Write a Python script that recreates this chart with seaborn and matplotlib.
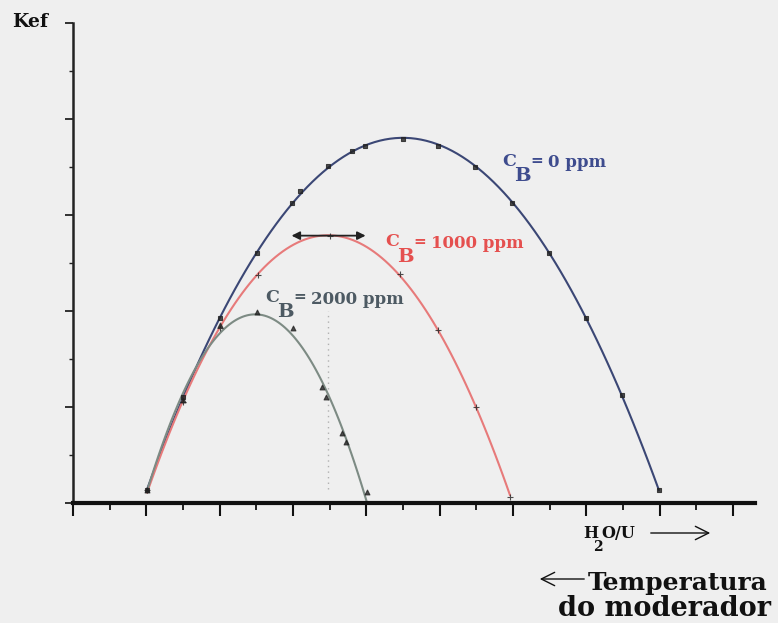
import numpy as np
import pandas as pd
import matplotlib
matplotlib.use("Agg")
import matplotlib.pyplot as plt
from matplotlib.ticker import MultipleLocator, NullFormatter
import seaborn as sns

# H2O/U ratio (arbitrary units) and k-effective readings for each boron level
x_cb0 = [1.01, 1.50, 2.01, 2.51, 2.99, 3.10, 3.48, 3.81, 3.98, 4.50, 4.98, 5.48, 5.99, 6.49, 7.00, 7.49, 7.99]
k_cb0 = [0.27, 2.20, 3.85, 5.20, 6.26, 6.51, 7.03, 7.34, 7.44, 7.59, 7.44, 6.99, 6.24, 5.20, 3.85, 2.25, 0.27]

x_cb1000 = [1.01, 1.50, 2.01, 2.52, 3.51, 4.46, 4.98, 5.50, 5.96]
k_cb1000 = [0.27, 2.10, 3.64, 4.76, 5.57, 4.78, 3.60, 2.00, 0.12]

x_cb2000 = [1.01, 1.50, 2.01, 2.51, 3.00, 3.40, 3.45, 3.67, 3.72, 4.01]
k_cb2000 = [0.27, 2.14, 3.70, 3.97, 3.64, 2.41, 2.20, 1.46, 1.27, 0.23]

labels = ["0 ppm", "1000 ppm", "2000 ppm"]

W, H = 778, 623
BG = "#efefef"

sns.set_style("ticks")
plt.rcParams["font.family"] = ["DejaVu Serif", "DejaVu Sans"]

fig = plt.figure(figsize=(W / 100, H / 100), dpi=100, facecolor=BG)
ax = fig.add_axes([73 / W, 1 - 503 / H, (755 - 73) / W, (503 - 23) / H])
ax.set_facecolor(BG)

series = [
    (x_cb0, k_cb0, "#3b4775", "s", 10),
    (x_cb1000, k_cb1000, "#e77a7a", "+", 14),
    (x_cb2000, k_cb2000, "#7d8b84", "^", 12),
]
for xs, ks, col, mk, sz in series:
    df = pd.DataFrame({"h2o_u": xs, "kef": ks})
    sns.regplot(data=df, x="h2o_u", y="kef", order=2, ci=None, truncate=True, ax=ax,
                marker=mk,
                scatter_kws=dict(color="#222222", s=sz, linewidths=0.8, zorder=3),
                line_kws=dict(color=col, lw=1.5, zorder=2))

# faint dotted guide under the 1000 ppm maximum
ax.plot([3.48, 3.48], [0.3, 4.0], ls=(0, (1, 3)), color="#b0b0b0", lw=1.0, zorder=1)

# double-headed arrow across the 1000 ppm maximum
ax.annotate("", xy=(2.98, 5.57), xytext=(3.99, 5.57),
            arrowprops=dict(arrowstyle="<|-|>", color="#222222", lw=1.3,
                            mutation_scale=12, shrinkA=0, shrinkB=0))

ax.set_xlim(0, 9.30)
ax.set_ylim(0, 10)
ax.set_xlabel("")
ax.set_ylabel("")
ax.xaxis.set_major_locator(MultipleLocator(1))
ax.xaxis.set_minor_locator(MultipleLocator(0.5))
ax.yaxis.set_major_locator(MultipleLocator(2))
ax.yaxis.set_minor_locator(MultipleLocator(1))
ax.xaxis.set_major_formatter(NullFormatter())
ax.yaxis.set_major_formatter(NullFormatter())
ax.tick_params(axis="x", which="major", direction="out", length=9, width=1.5, color="#111111")
ax.tick_params(axis="x", which="minor", direction="out", length=5, width=1.3, color="#111111")
ax.tick_params(axis="y", which="major", direction="out", length=6, width=1.3, color="#222222")
ax.tick_params(axis="y", which="minor", direction="out", length=3, width=1.0, color="#222222")
sns.despine(ax=ax, top=True, right=True)
ax.spines["bottom"].set_linewidth(3.0)
ax.spines["bottom"].set_color("#111111")
ax.spines["left"].set_linewidth(1.8)
ax.spines["left"].set_color("#222222")


def fx(px):
    return px / W


def fy(py):
    return 1 - py / H


def cb_label(px, py, txt, color):
    fig.text(fx(px), fy(py), "C", color=color, fontsize=12.5, fontweight="bold",
             ha="left", va="center")
    fig.text(fx(px + 12), fy(py + 15), "B", color=color, fontsize=14, fontweight="bold",
             ha="left", va="center")
    fig.text(fx(px + 28), fy(py), "=", color=color, fontsize=11, fontweight="bold",
             ha="left", va="center")
    fig.text(fx(px + 46), fy(py + 2), txt, color=color, fontsize=12, fontweight="bold",
             ha="left", va="center")


cb_label(502, 161, labels[0], "#3e4c8e")
cb_label(385, 242, labels[1], "#e5504f")
cb_label(265, 297, labels[2], "#4d5a63")

fig.text(fx(12), fy(22), "Kef", fontsize=13.5, fontweight="bold", color="#111111",
         ha="left", va="center")

fig.text(fx(583), fy(533), "H", fontsize=11.5, fontweight="bold", color="#111111",
         ha="left", va="center")
fig.text(fx(593), fy(547), "2", fontsize=10, fontweight="bold", color="#111111",
         ha="left", va="center")
fig.text(fx(601), fy(533), "O/U", fontsize=11.5, fontweight="bold", color="#111111",
         ha="left", va="center")
fig.patches.append(matplotlib.patches.FancyArrowPatch(
    (fx(648), fy(533)), (fx(713), fy(533)), transform=fig.transFigure,
    arrowstyle="->", mutation_scale=24, lw=1.0, color="#111111"))

fig.text(fx(588), fy(583), "Temperatura", fontsize=18, fontweight="bold", color="#111111",
         ha="left", va="center")
fig.text(fx(558), fy(609), "do moderador", fontsize=19.5, fontweight="bold", color="#111111",
         ha="left", va="center")
fig.patches.append(matplotlib.patches.FancyArrowPatch(
    (fx(587), fy(579)), (fx(537), fy(579)), transform=fig.transFigure,
    arrowstyle="->", mutation_scale=24, lw=1.0, color="#111111"))

fig.savefig("out.png", dpi=100, facecolor=BG)
